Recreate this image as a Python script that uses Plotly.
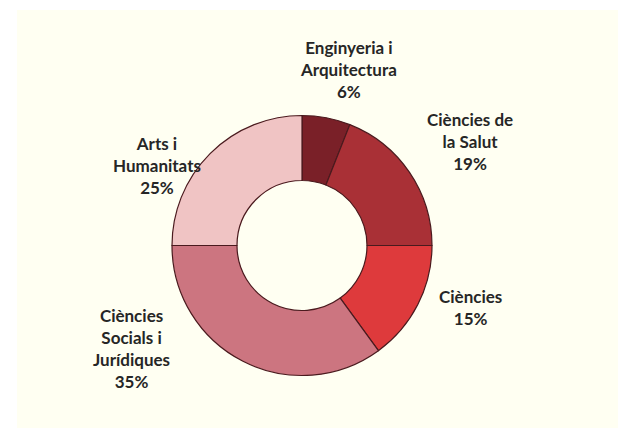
import plotly.graph_objects as go

categories = ["Enginyeria i Arquitectura", "Ciències de la Salut", "Ciències",
              "Ciències Socials i Jurídiques", "Arts i Humanitats"]
values = [6, 19, 15, 35, 25]
label_texts = ["Enginyeria i<br>Arquitectura<br>6%", "Ciències de<br>la Salut<br>19%",
               "Ciències<br>15%", "Ciències<br>Socials i<br>Jurídiques<br>35%",
               "Arts i<br>Humanitats<br>25%"]
colors = ["#7A2028", "#A93036", "#DE3A3C", "#CC7580", "#F0C4C4"]

W, H = 618, 428
ML, MT = 17, 10
PW, PH = W - ML, H - MT
CREAM = "#FFFFF2"

def px(x):
    return (x - ML) / PW

def py(y):
    return 1 - (y - MT) / PH

cx, cy, r = 302, 245.5, 130

fig = go.Figure(go.Pie(
    labels=categories, values=values, sort=False, direction="clockwise",
    rotation=0, hole=0.5, textinfo="none", hoverinfo="label+percent",
    marker=dict(colors=colors, line=dict(color="#4A1A1E", width=1.2)),
    domain=dict(x=[px(cx - r), px(cx + r)], y=[py(cy + r), py(cy - r)]),
    showlegend=False,
))

label_pos = [(348, 70), (470, 141), (470, 307.5), (131, 348), (157, 165)]
for t, (x, y) in zip(label_texts, label_pos):
    fig.add_annotation(x=px(x), y=py(y), xref="paper", yref="paper",
                       text="<b>" + t.replace("<br>", "</b><br><b>") + "</b>",
                       showarrow=False, xanchor="center", yanchor="middle",
                       font=dict(family="Lato", size=17, color="#262626"),
                       align="center")

fig.update_layout(
    width=W, height=H, margin=dict(l=ML, r=0, t=MT, b=0),
    paper_bgcolor=CREAM,
    font=dict(family="Lato"),
    shapes=[
        dict(type="rect", xref="paper", yref="paper", x0=-ML / PW - 0.01, x1=0,
             y0=-0.05, y1=1 + MT / PH + 0.01, fillcolor="white", line=dict(width=0),
             layer="below"),
        dict(type="rect", xref="paper", yref="paper", x0=-0.05, x1=1.05,
             y0=1, y1=1 + MT / PH + 0.01, fillcolor="white", line=dict(width=0),
             layer="below"),
    ],
)
fig.write_html("out.html", config={"displayModeBar": False},
               post_script="document.body.style.margin='0';document.body.style.overflow='hidden';"
                           "document.body.style.background='" + CREAM + "';")
